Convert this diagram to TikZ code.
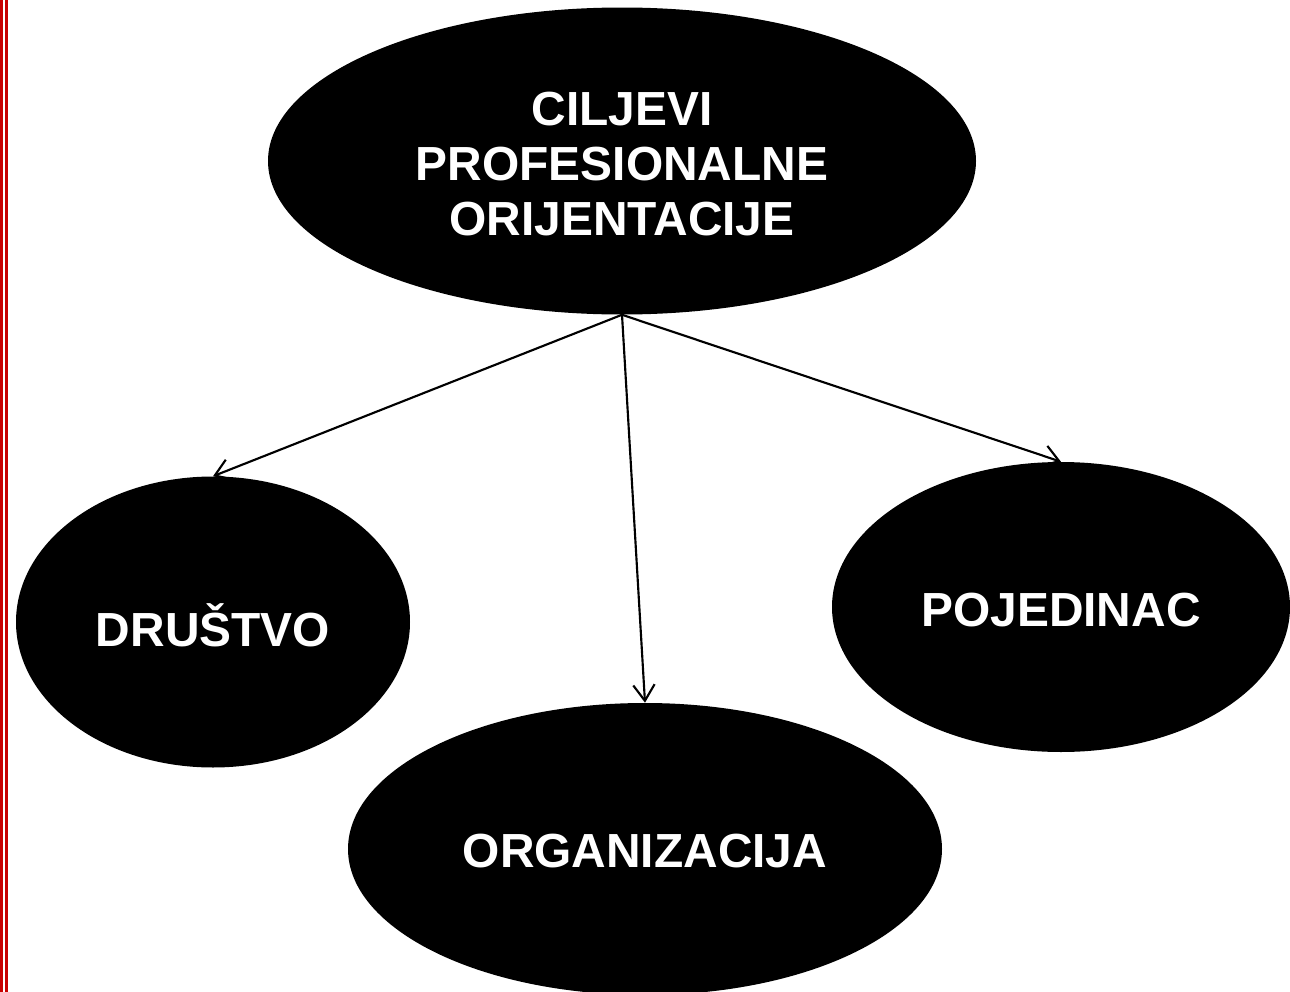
\documentclass[tikz,border=0pt]{standalone}
\usepackage{fontspec}
\setmainfont{Liberation Sans}
\usetikzlibrary{arrows.meta,shapes.geometric}
\definecolor{borderred}{RGB}{200,0,0}
\begin{document}
\begin{tikzpicture}[x=0.75pt,y=-0.75pt,
  blob/.style={ellipse,fill=black,draw=none,inner sep=0pt,text=white,
    font=\bfseries\fontsize{35.9}{41.3}\selectfont,align=center},
  conn/.style={line width=1.6pt,-{Straight Barb[length=12pt,width=16pt,line width=1.6pt]}}]
\useasboundingbox (0,0) rectangle (1290,992);
\fill[white] (0,0) rectangle (1290,992);
\fill[borderred] (0,0) rectangle (3,992);
\fill[borderred] (5,0) rectangle (8,992);
\node[blob,minimum width=531pt,minimum height=230.25pt] (top) at (622,161) {};
\node[blob,minimum width=295.5pt,minimum height=218.25pt] (dr) at (213,622) {};
\node[blob,minimum width=343.5pt,minimum height=217.5pt] (po) at (1061,607) {};
\node[blob,minimum width=445.5pt,minimum height=219pt] (or) at (645,849) {};
\node[blob] (toptext) at (622,164) {CILJEVI\\PROFESIONALNE\\ORIJENTACIJE};
\node[blob] (drtext) at (213,625) {DRUŠTVO};
\node[blob] (potext) at (1061,610) {POJEDINAC};
\node[blob] (ortext) at (645,851) {ORGANIZACIJA};
\draw[conn] (top.south) -- (dr.north);
\draw[conn] (top.south) -- (or.north);
\draw[conn] (top.south) -- (po.north);
\end{tikzpicture}
\end{document}
